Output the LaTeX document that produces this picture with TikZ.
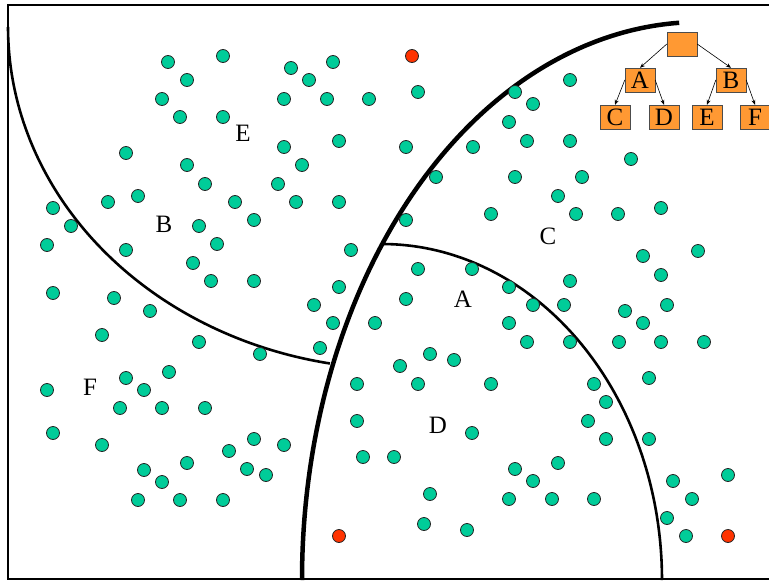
\documentclass[tikz,border=0pt]{standalone}
\usepackage{fontspec}
\setmainfont{Liberation Serif}
\usetikzlibrary{arrows.meta,positioning}
\definecolor{dotgreen}{RGB}{0,204,153}
\definecolor{dotred}{RGB}{255,51,0}
\definecolor{boxorange}{RGB}{255,153,51}

\begin{document}
\begin{tikzpicture}[x=1pt, y=-1pt,
    dot/.style={circle, draw=black!85, fill=dotgreen, minimum size=13pt, inner sep=0pt, line width=0.8pt},
    reddot/.style={dot, fill=dotred},
    region/.style={font=\fontsize{25}{25}\selectfont, inner sep=0pt},
    treebox/.style={draw=black!70, fill=boxorange, minimum width=30pt, minimum height=24pt, inner sep=0pt, font=\fontsize{25}{25}\selectfont},
    arr/.style={-{Stealth[length=5pt,width=4pt]}, line width=0.6pt},
    split/.style={line width=2.6pt},
    mainsplit/.style={line width=4.5pt}
]
\useasboundingbox (0,0) rectangle (769,581);
\draw[line width=2pt] (769,5) -- (8,5) -- (8,579) -- (769,579);

\draw[mainsplit] plot[domain=180:93, samples=90, smooth] ({700+398*cos(\x)}, {580-558*sin(\x)});
\draw[split] plot[domain=90:0, samples=70, smooth] ({382+280*cos(\x)}, {580-336*sin(\x)});
\draw[split] plot[domain=180:100.3, samples=70, smooth] ({400+392*cos(\x)}, {27+342*sin(\x)});

\foreach \px/\py [count=\i] in {168/62,223/56,187/80,291/68,333/62,309/80,162/99,284/99,327/99,369/99,
    180/117,223/117,284/147,339/141,126/153,187/165,302/165,205/184,278/184,53/208,
    71/226,108/202,138/196,235/202,296/202,339/202,199/226,254/220,47/245,126/250,
    217/244,351/250,193/263,211/281,254/281,339/287,53/293,114/298,150/311,102/335,
    199/342,314/305,333/323,375/323,320/348,260/354,126/378,169/372,47/390,144/390,
    120/408,162/408,205/408,357/384,53/433,102/445,254/439,284/445,229/451,357/421,
    144/470,187/463,247/469,266/475,363/457,162/482,138/500,180/500,223/500,
    418/269,472/269,509/287,570/281,406/299,533/305,564/305,643/256,698/251,661/275,
    667/305,625/311,643/323,509/323,527/342,570/342,619/342,661/342,704/342,430/354,
    454/360,400/366,418/384,491/384,594/384,649/378,606/402,588/421,472/433,606/439,
    649/439,394/457,558/463,515/469,533/481,673/481,728/475,430/494,509/499,552/499,
    594/499,692/499,667/518,424/524,467/530,686/536,
    418/92,515/92,533/104,570/80,509/122,406/147,473/147,527/141,570/141,631/159,
    436/177,515/177,582/177,558/196,406/220,491/214,576/214,618/214,661/208}
    \node[dot] (g\i) at (\px,\py) {};
\foreach \px/\py [count=\i] in {412/56,339/536,728/536}
    \node[reddot] (r\i) at (\px,\py) {};

\node[region] (lE) at (243,133) {E};
\node[region] (lB) at (164,224) {B};
\node[region] (lC) at (548,236) {C};
\node[region] (lA) at (463,299) {A};
\node[region] (lD) at (438,425) {D};
\node[region] (lF) at (90,387) {F};

\node[treebox] (root) at (682,44) {};
\node[treebox] (tA) at (640,80) {A};
\node[treebox] (tB) at (731,80) {B};
\node[treebox] (tC) at (615,117) {C};
\node[treebox] (tD) at (664,117) {D};
\node[treebox] (tE) at (707,117) {E};
\node[treebox] (tF) at (755,117) {F};

\draw[arr] (root.west) -- (tA.north);
\draw[arr] (root.east) -- (tB.north);
\draw[arr] (tA.west) -- (tC.north);
\draw[arr] (tA.east) -- (tD.north);
\draw[arr] (tB.west) -- (tE.north);
\draw[arr] (tB.east) -- (tF.north);
\end{tikzpicture}
\end{document}
